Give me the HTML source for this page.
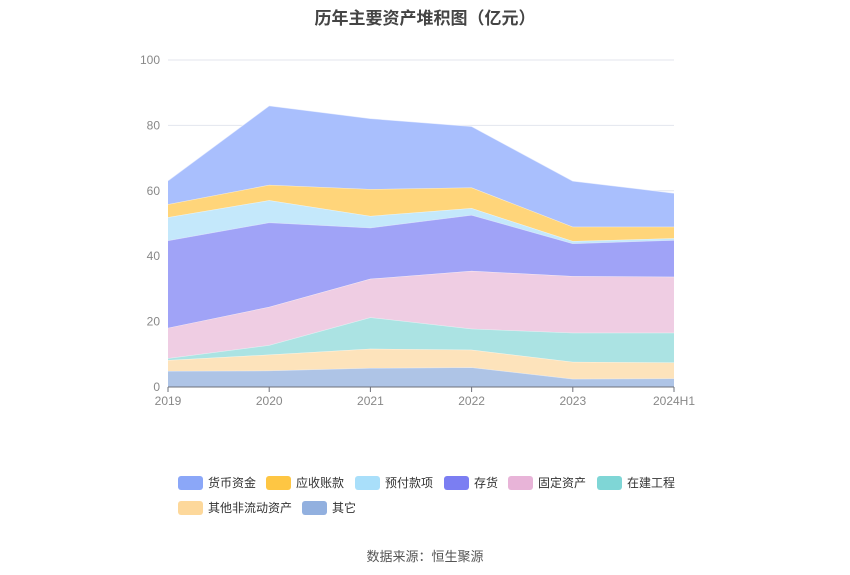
<!DOCTYPE html>
<html><head><meta charset="utf-8"><style>
body{margin:0;background:#fff;font-family:"Liberation Sans","Noto Sans CJK SC",sans-serif;}
#wrap{position:relative;width:850px;height:575px;overflow:hidden}
.title{position:absolute;top:4px;left:0;width:850px;text-align:center;font-size:17px;font-weight:bold;color:#444}
.src{position:absolute;top:546px;left:0;width:850px;text-align:center;font-size:13px;color:#555}
.leg{position:absolute;font-size:12px;color:#333;display:flex;align-items:center}
.leg i{display:inline-block;width:25px;height:14px;border-radius:3px;margin-right:5px}
</style></head><body>
<div id="wrap">
<div class="title">历年主要资产堆积图（亿元）</div>
<svg id="chart" width="850" height="575" style="position:absolute;left:0;top:0"></svg>
<div class="leg" style="left:178px;top:474px"><i style="background:#8ba7f8"></i>货币资金</div>
<div class="leg" style="left:266px;top:474px"><i style="background:#fec643"></i>应收账款</div>
<div class="leg" style="left:355px;top:474px"><i style="background:#a9dffa"></i>预付款项</div>
<div class="leg" style="left:444px;top:474px"><i style="background:#7b7ef2"></i>存货</div>
<div class="leg" style="left:508px;top:474px"><i style="background:#e8b4d8"></i>固定资产</div>
<div class="leg" style="left:597px;top:474px"><i style="background:#7fd6d6"></i>在建工程</div>
<div class="leg" style="left:178px;top:499px"><i style="background:#fdd89b"></i>其他非流动资产</div>
<div class="leg" style="left:302px;top:499px"><i style="background:#92b0df"></i>其它</div>
<div class="src">数据来源：恒生聚源</div>
</div>
<script>
const categories=["2019","2020","2021","2022","2023","2024H1"];
const yTicks=[0,20,40,60,80,100];
const other=[4.9,5.0,5.8,6.0,2.5,2.6];
const otherNoncurrent=[3.3,4.9,5.9,5.4,5.2,4.9];
const construction=[0.6,2.9,9.6,6.4,8.9,9.1];
const fixedAssets=[9.3,11.7,11.8,17.7,17.3,17.1];
const inventory=[26.7,25.8,15.6,17.1,10.0,11.2];
const prepayments=[7.1,6.8,3.6,2.1,0.7,0.6];
const receivables=[4.0,4.7,8.2,6.3,4.4,3.5];
const cash=[7.2,24.2,21.6,18.7,14.0,10.3];
const series=[
 ["other",other,"#aec4e6"],["other-noncurrent",otherNoncurrent,"#fde3bb"],
 ["construction",construction,"#abe3e3"],["fixed-assets",fixedAssets,"#efcde3"],
 ["inventory",inventory,"#a0a3f7"],["prepayments",prepayments,"#c4e8fb"],
 ["receivables",receivables,"#ffd57a"],["cash",cash,"#a9bffd"]];
const NS="http://www.w3.org/2000/svg",svg=document.getElementById("chart");
const x0=168,x1=674,y0=387,y1=60;
const xs=i=>x0+(x1-x0)*i/(categories.length-1);
const ys=v=>y0-(y0-y1)*v/100;
function mk(t,a){const e=document.createElementNS(NS,t);for(const k in a)e.setAttribute(k,a[k]);svg.appendChild(e);return e;}
yTicks.forEach(t=>{
 const g=mk("line",{x1:x0,x2:x1,y1:ys(t),y2:ys(t),stroke:"#e3e6ee","stroke-width":1});
 
 
 const l=mk("text",{x:x0-8,y:ys(t)+4,"text-anchor":"end","font-size":12,fill:"#888"});l.textContent=t;
 
 
});
let base=categories.map(()=>0);
series.forEach(([n,vals,c])=>{
 const top=base.map((b,i)=>b+vals[i]);
 let d="M"+top.map((v,i)=>xs(i)+","+ys(v)).join(" L");
 for(let i=categories.length-1;i>=0;i--)d+=" L"+xs(i)+","+ys(base[i]);
 const p=mk("path",{d:d+"Z",fill:c,stroke:"none"});
 
 
 const ln=mk("polyline",{points:top.map((v,i)=>xs(i)+","+ys(v)).join(" "),fill:"none",stroke:"rgba(255,255,255,0.6)","stroke-width":1});
 
 
 base=top;
});
const ax=mk("line",{x1:x0,x2:x1,y1:y0,y2:y0,stroke:"#6e7079","stroke-width":1});


categories.forEach((c,i)=>{
 const t=mk("line",{x1:xs(i),x2:xs(i),y1:y0,y2:y0+5,stroke:"#6e7079"});
 
 
 const l=mk("text",{x:xs(i),y:y0+18,"text-anchor":"middle","font-size":12,fill:"#888"});l.textContent=c;
 
 
});
</script>
</body></html>
